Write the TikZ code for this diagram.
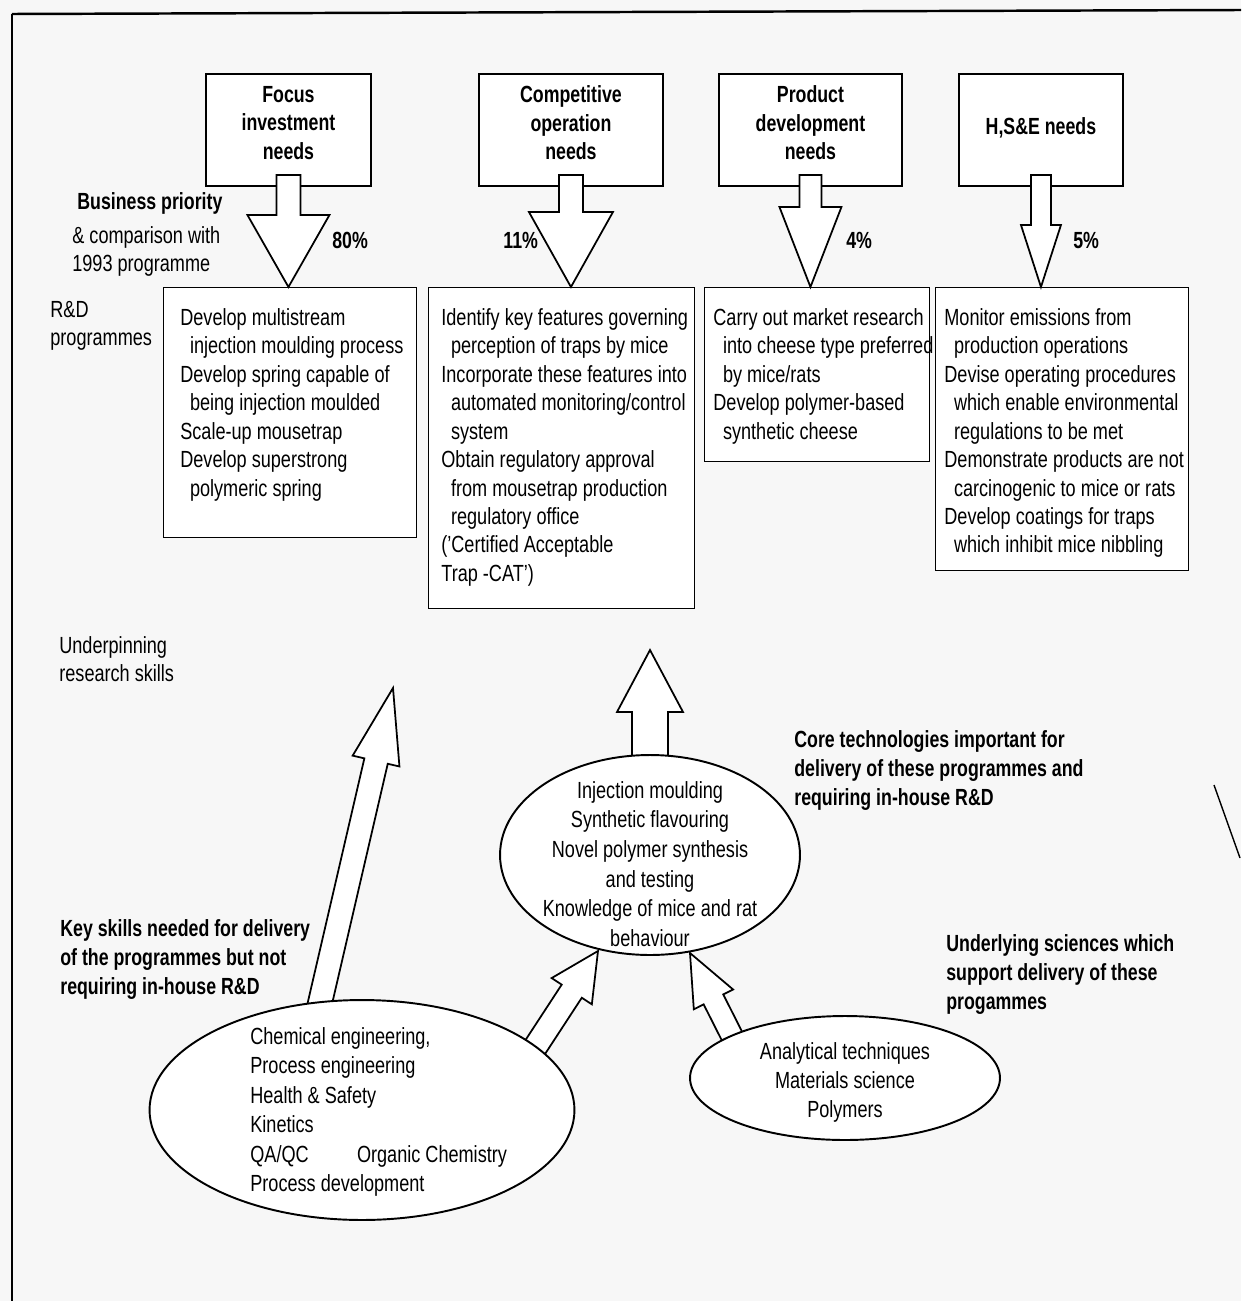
\documentclass[tikz,border=0pt]{standalone}
\usepackage{fontspec}
\setmainfont{Liberation Sans}[FakeStretch=0.775,BoldFeatures={FakeStretch=0.76}]
\usetikzlibrary{calc,shapes.geometric}
\newcommand\fatarrow[5]{%
  \coordinate (fa-b) at ($(#2)!#5*0.02cm!(#1)$);
  \draw[fat] ($(#1)!#3*0.02cm!90:(#2)$) -- ($(fa-b)!#3*0.02cm!-90:(#1)$) -- ($(fa-b)!#4*0.02cm!-90:(#1)$) -- (#2) -- ($(fa-b)!#4*0.02cm!90:(#1)$) -- ($(fa-b)!#3*0.02cm!90:(#1)$) -- ($(#1)!#3*0.02cm!-90:(#2)$) -- cycle;}
\begin{document}
\begin{tikzpicture}[x=0.02cm,y=-0.02cm,font=\fontsize{13.3}{16.2}\selectfont,
  topbox/.style={draw,line width=1.1pt,fill=white,inner sep=0,anchor=north west},
  rdbox/.style={draw,line width=0.7pt,fill=white,inner sep=0,anchor=north west},
  fat/.style={draw,line width=1pt,fill=white,line join=miter},
  txt/.style={anchor=north west,inner sep=0,align=left},
  ctxt/.style={anchor=center,inner sep=0,align=center},
  bold/.style={font=\fontsize{13.3}{16.2}\selectfont\bfseries},
  boldl/.style={font=\fontsize{13.3}{16.7}\selectfont\bfseries},
  oval/.style={draw,line width=1.1pt,fill=white,ellipse,inner sep=0}]
\useasboundingbox (0,0) rectangle (1241,1301);
\fill[gray!6] (0,0) rectangle (1241,1301);
% page frame
\draw[line width=0.8pt] (12,1301) -- (12,14);
\draw[line width=1.4pt] (12,14) -- (1241,10);
\draw[line width=0.8pt] (1214,785) -- (1240,858);

% top boxes
\node[topbox,minimum width=3.3cm,minimum height=2.24cm] (t1) at (205,73) {};
\node[topbox,minimum width=3.68cm,minimum height=2.24cm] (t2) at (478,73) {};
\node[topbox,minimum width=3.66cm,minimum height=2.24cm] (t3) at (718,73) {};
\node[topbox,minimum width=3.28cm,minimum height=2.24cm] (t4) at (958,73) {};
\node[ctxt,bold] (t1x) at ($(t1.center)+(0,-7)$) {Focus\\investment\\needs};
\node[ctxt,bold] (t2x) at ($(t2.center)+(0,-7)$) {Competitive\\operation\\needs};
\node[ctxt,bold] (t3x) at ($(t3.center)+(0,-7)$) {Product\\development\\needs};
\node[ctxt,bold] (t4x) at ($(t4.center)+(0,-2)$) {H,S\&E needs};

% R&D programme boxes
\node[rdbox,minimum width=5.06cm,minimum height=5.0cm] (pA) at (163,287) {};
\node[rdbox,minimum width=5.32cm,minimum height=6.42cm] (pB) at (428,287) {};
\node[rdbox,minimum width=4.5cm,minimum height=3.48cm] (pC) at (704,287) {};
\node[rdbox,minimum width=5.06cm,minimum height=5.66cm] (pD) at (935,287) {};

\node[txt] (pAx) at (180,308) {Develop multistream\\\hspace*{5.5pt}injection moulding process\\Develop spring capable of\\\hspace*{5.5pt}being injection moulded\\Scale-up mousetrap\\Develop superstrong\\\hspace*{5.5pt}polymeric spring};
\node[txt] (pBx) at (441,308) {Identify key features governing\\\hspace*{5.5pt}perception of traps by mice\\Incorporate these features into\\\hspace*{5.5pt}automated monitoring/control\\\hspace*{5.5pt}system\\Obtain regulatory approval\\\hspace*{5.5pt}from mousetrap production\\\hspace*{5.5pt}regulatory office\\('Certified Acceptable\\Trap -CAT')};
\node[txt] (pCx) at (713,308) {Carry out market research\\\hspace*{5.5pt}into cheese type preferred\\\hspace*{5.5pt}by mice/rats\\Develop polymer-based\\\hspace*{5.5pt}synthetic cheese};
\node[txt] (pDx) at (944,308) {Monitor emissions from\\\hspace*{5.5pt}production operations\\Devise operating procedures\\\hspace*{5.5pt}which enable environmental\\\hspace*{5.5pt}regulations to be met\\Demonstrate products are not\\\hspace*{5.5pt}carcinogenic to mice or rats\\Develop coatings for traps\\\hspace*{5.5pt}which inhibit mice nibbling};

% top arrows
\coordinate (a1s) at ($(t1.south)+(0,-12)$);
\coordinate (a1e) at (t1.south |- pA.north);
\coordinate (a2s) at ($(t2.south)+(0,-12)$);
\coordinate (a2e) at (t2.south |- pB.north);
\coordinate (a3s) at ($(t3.south)+(0,-12)$);
\coordinate (a3e) at (t3.south |- pC.north);
\coordinate (a4s) at ($(t4.south)+(0,-12)$);
\coordinate (a4e) at (t4.south |- pD.north);
\fatarrow{a1s}{a1e}{12}{41}{72}
\fatarrow{a2s}{a2e}{12}{42}{75}
\fatarrow{a3s}{a3e}{11}{31}{80}
\fatarrow{a4s}{a4e}{10}{20}{62}

% labels top
\node[txt,bold] (bp) at (77,192) {Business priority};
\node[txt] (cmp) at (72,226) {\& comparison with\\1993 programme};
\node[anchor=west,inner sep=0,bold] (p80) at (332,240) {80\%};
\node[anchor=west,inner sep=0,bold] (p11) at (503,240) {11\%};
\node[anchor=west,inner sep=0,bold] (p4) at (846,240) {4\%};
\node[anchor=west,inner sep=0,bold] (p5) at (1073,240) {5\%};
\node[txt] (rd) at (50,301) {R\&D\\programmes};

% lower part
\node[txt] (urs) at (59,636) {Underpinning\\research skills};

\coordinate (c1) at (650,775);
\coordinate (c2) at (650,650);
\fatarrow{c1}{c2}{18}{33}{62}
\node[oval,minimum width=6cm,minimum height=4cm] (e2) at (650,855) {};

\coordinate (k1) at (316,1020);
\coordinate (k2) at (393,688);
\fatarrow{k1}{k2}{12}{24}{75}
\coordinate (m1) at (532,1052);
\coordinate (m2) at (598,951);
\fatarrow{m1}{m2}{12}{24}{48}
\coordinate (n1) at (738,1048);
\coordinate (n2) at (690,953);
\fatarrow{n1}{n2}{11}{22}{52}

\node[oval,minimum width=8.5cm,minimum height=4.4cm] (e1) at (362,1110) {};
\node[oval,minimum width=6.2cm,minimum height=2.48cm] (e3) at (845,1078) {};

\node[ctxt,font=\fontsize{13.3}{16.9}\selectfont] (e2x) at (650,864) {Injection moulding\\Synthetic flavouring\\Novel polymer synthesis\\and testing\\Knowledge of mice and rat\\behaviour};
\node[txt,font=\fontsize{13.3}{16.8}\selectfont] (e1x) at (250,1027) {Chemical engineering,\\Process engineering\\Health \& Safety\\Kinetics\\\makebox[60.7pt][l]{QA/QC}Organic Chemistry\\Process development};
\node[ctxt,font=\fontsize{13.3}{16.5}\selectfont] (e3x) at (845,1082) {Analytical techniques\\Materials science\\Polymers};

\node[txt,boldl] (core) at (794,730) {Core technologies important for\\delivery of these programmes and\\requiring in-house R\&D};
\node[txt,boldl] (und) at (946,934) {Underlying sciences which\\support delivery of these\\progammes};
\node[txt,boldl] (key) at (60,919) {Key skills needed for delivery\\of the programmes but not\\requiring in-house R\&D};
\end{tikzpicture}
\end{document}
